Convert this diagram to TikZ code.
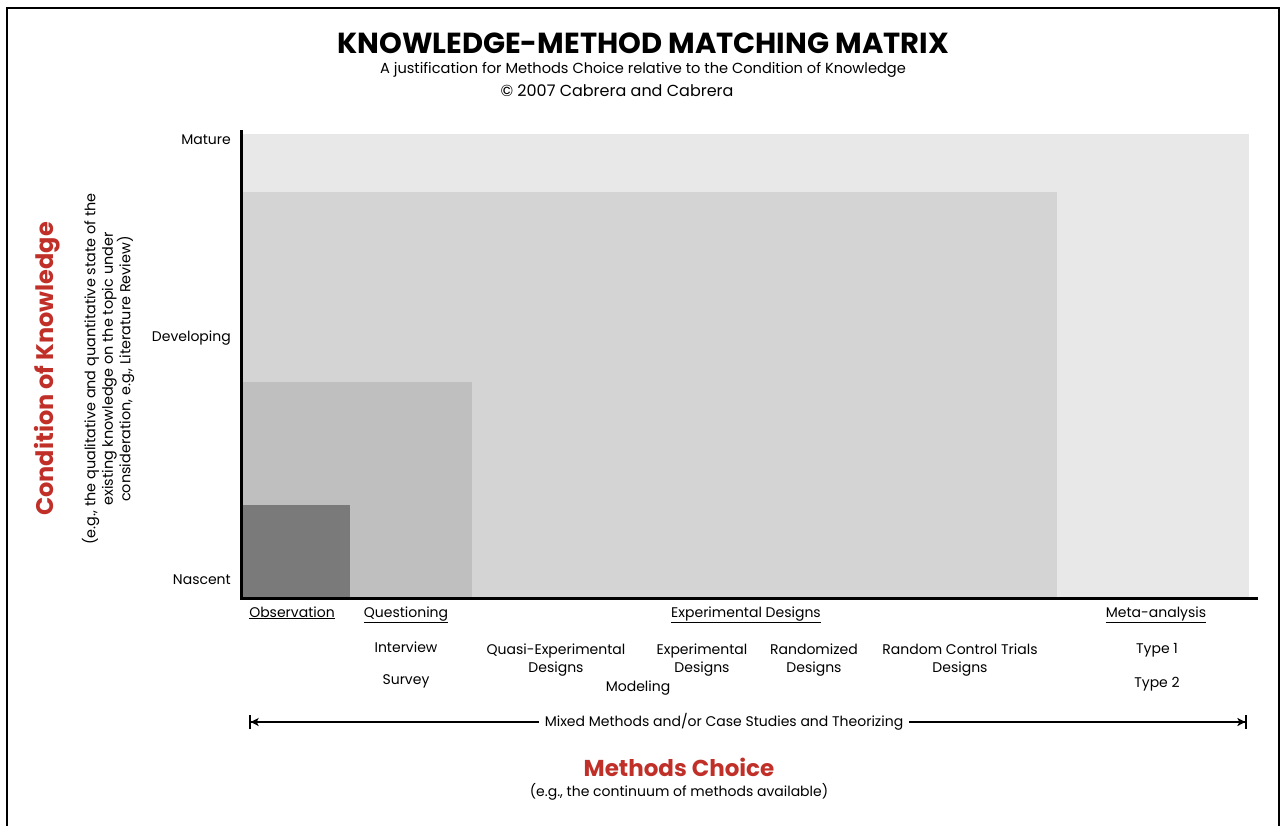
\documentclass[tikz,border=0pt]{standalone}
\usepackage{fontspec}
\setmainfont{Poppins}
\usepackage{tikz}
\usetikzlibrary{positioning, arrows.meta}

\definecolor{kred}{RGB}{192,48,40}

\begin{document}
\begin{tikzpicture}[x=1pt, y=-1pt,
    lbl/.style={font=\fontsize{14}{18}\selectfont, inner sep=1pt},
    axlbl/.style={lbl, anchor=east},
    methlbl/.style={lbl, anchor=base},
    twoline/.style={lbl, align=center},
    bigred/.style={font=\fontsize{23}{27}\bfseries\selectfont, text=kred, inner sep=0pt},
    span/.style={line width=1.6pt}]
  \useasboundingbox (0,0) rectangle (1280,826);
  % frame
  \draw[line width=1.5pt] (7,840) -- (7,8) -- (1279,8) -- (1279,840);

  % title
  \node[font=\fontsize{29}{33}\bfseries\selectfont] (title) at (643,43) {KNOWLEDGE-METHOD MATCHING MATRIX};
  \node[lbl, font=\fontsize{14.6}{18}\selectfont] (sub) at (643,70) {A justification for Methods Choice relative to the Condition of Knowledge};
  \node[lbl, font=\fontsize{16}{18}\selectfont] (copy) at (617,91) {\textcopyright{} 2007 Cabrera and Cabrera};

  % regions
  \fill[black!9]  (241,134) rectangle (1249,598);
  \fill[black!17] (241,192) rectangle (1057,598);
  \fill[black!25] (241,382) rectangle (472,598);
  \fill[black!52] (241,505) rectangle (350,598);

  % axes
  \coordinate (o) at (241,598);
  \draw[line width=3pt] (241,130) -- (o) -- (1258,598);

  % y labels
  \node[axlbl] (mature) at (232,140) {Mature};
  \node[axlbl] (dev) at (232,338) {Developing};
  \node[axlbl] (nasc) at (232,580) {Nascent};
  \node[bigred, font=\fontsize{24}{28}\bfseries\selectfont, rotate=90] (cok) at (47,369) {Condition of Knowledge};
  \node[twoline, font=\fontsize{14.4}{17.5}\selectfont, rotate=90] (cokdesc) at (108,369) {(e.g., the qualitative and quantitative state of the\\existing knowledge on the topic under\\consideration, e.g., Literature Review)};

  % x labels
  \node[methlbl] (obs) at (292,617) {\underline{Observation}};
  \node[methlbl] (quest) at (406,617) {\underline{Questioning}};
  \node[methlbl] (expd) at (746,617) {\underline{Experimental Designs}};
  \node[methlbl] (meta) at (1156,617) {\underline{Meta-analysis}};
  \node[lbl] (interview) at (406,647) {Interview};
  \node[lbl] (survey) at (406,681) {Survey};
  \node[twoline] (quasi) at (556,660) {Quasi-Experimental\\Designs};
  \node[lbl] (model) at (638,688) {Modeling};
  \node[twoline] (exper) at (702,660) {Experimental\\Designs};
  \node[twoline] (rand) at (814,660) {Randomized\\Designs};
  \node[twoline] (rct) at (960,660) {Random Control Trials\\Designs};
  \node[lbl] (type1) at (1157,650) {Type 1};
  \node[lbl] (type2) at (1157,684) {Type 2};

  % continuum
  \coordinate (mixl) at (249,722);
  \coordinate (mixr) at (1247,722);
  \node[lbl, inner sep=6pt] (mix) at (724,722) {Mixed Methods and/or Case Studies and Theorizing};
  \draw[span, {Bar[width=14pt]Stealth[length=8pt,width=8pt,inset=2pt]}-] (mixl) -- (mix);
  \draw[span, -{Stealth[length=8pt,width=8pt,inset=2pt]Bar[width=14pt]}] (mix) -- (mixr);

  \node[bigred] (mc) at (679,767) {Methods Choice};
  \node[lbl] (mcdesc) at (679,792) {(e.g., the continuum of methods available)};
\end{tikzpicture}
\end{document}
